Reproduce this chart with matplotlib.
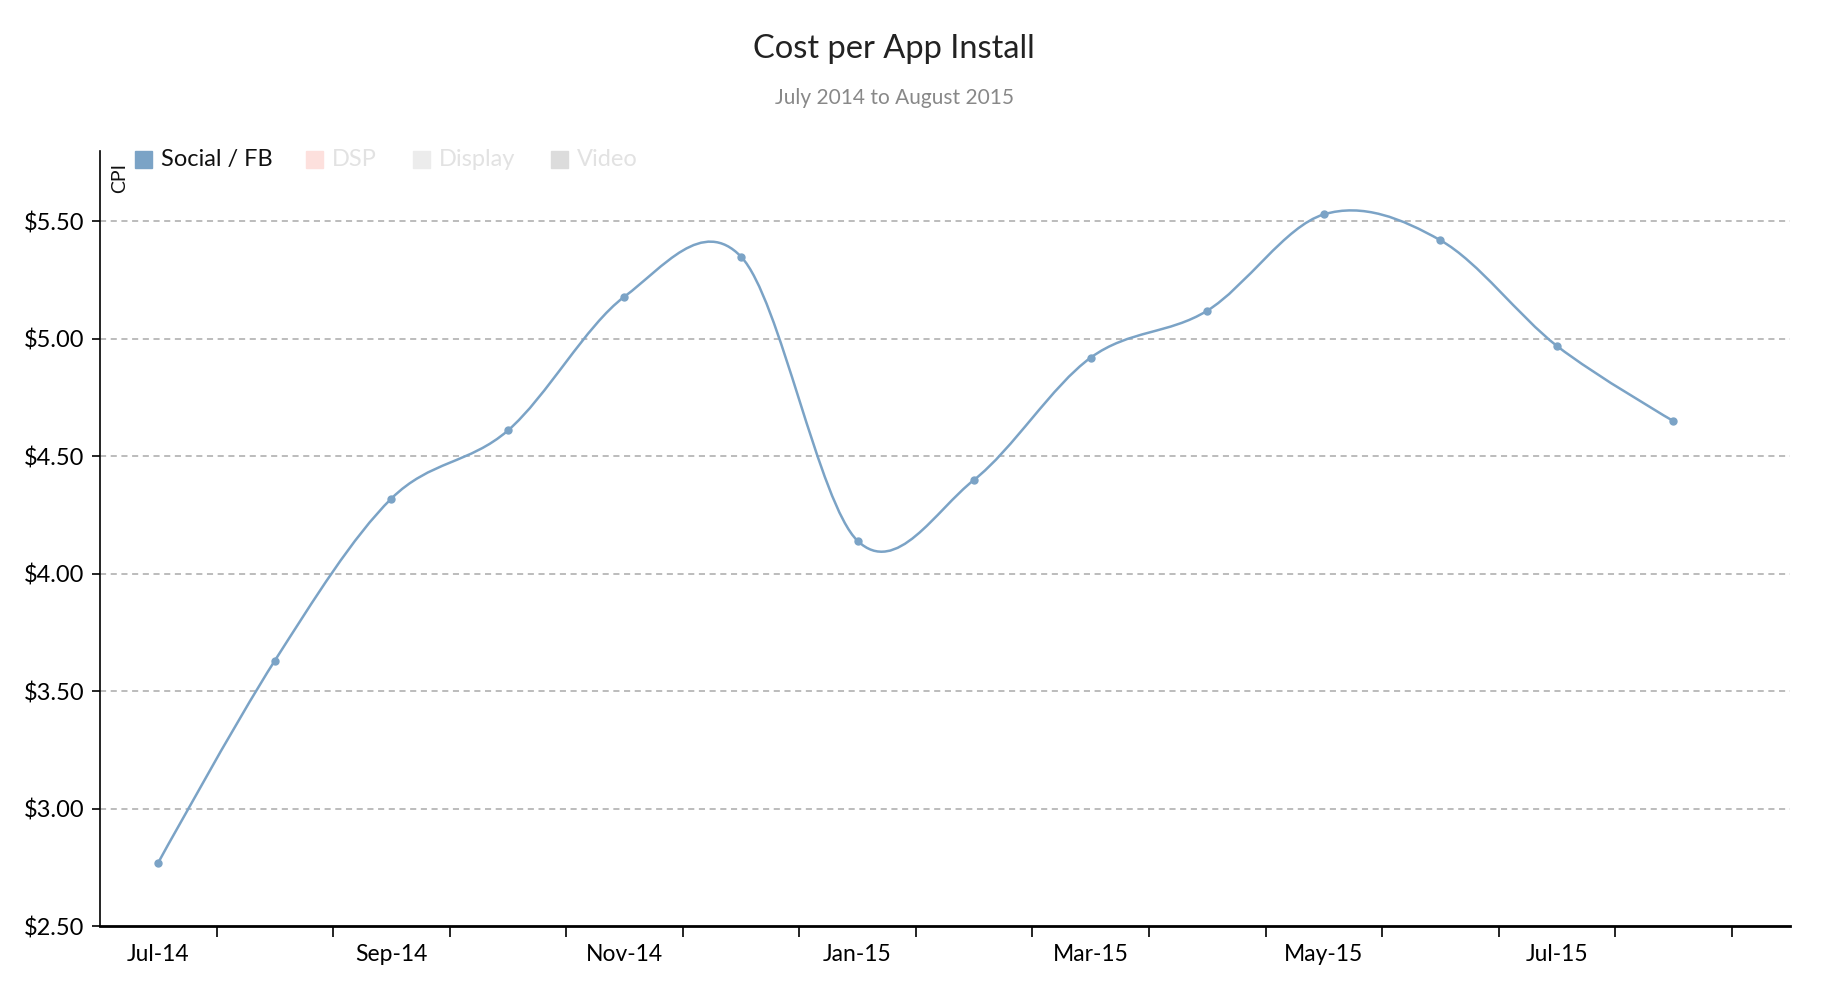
import matplotlib
matplotlib.use("Agg")
import matplotlib.pyplot as plt
from matplotlib.path import Path
from matplotlib.patches import PathPatch, Rectangle
from matplotlib.ticker import FixedLocator, NullFormatter

plt.rcParams["font.family"] = ["Lato", "DejaVu Sans"]

# Data
months = ["Jul-14", "Aug-14", "Sep-14", "Oct-14", "Nov-14", "Dec-14", "Jan-15",
          "Feb-15", "Mar-15", "Apr-15", "May-15", "Jun-15", "Jul-15", "Aug-15"]
cpi_social = [2.77, 3.63, 4.32, 4.61, 5.18, 5.35, 4.14,
              4.40, 4.92, 5.12, 5.53, 5.42, 4.97, 4.65]
y_ticks = [2.5, 3.0, 3.5, 4.0, 4.5, 5.0, 5.5]
legend_names = ["Social / FB", "DSP", "Display", "Video"]
legend_box_colors = ["#7ba3c6", "#fde0dd", "#ececec", "#dcdcdc"]
legend_text_colors = ["#111111", "#e2e2e2", "#e2e2e2", "#e2e2e2"]

W, H = 1826, 988
line_color = "#7ba3c6"

fig = plt.figure(figsize=(W / 100, H / 100), dpi=100)
ax = fig.add_axes([100 / W, 1 - 926 / H, (1790 - 100) / W, (926 - 151) / H])

# smooth cardinal curve (bezier segments, like d3.curveCardinal)
xs = list(range(len(cpi_social)))
n = len(xs)
verts = [(xs[0], cpi_social[0])]
codes = [Path.MOVETO]
k = 1 / 6
for i in range(n - 1):
    i0 = i - 1 if i > 0 else 1
    i3 = i + 2 if i + 2 < n else n - 2
    if i == 0:
        c1 = (xs[0], cpi_social[0])
    else:
        c1 = (xs[i] + k * (xs[i + 1] - xs[i0]),
              cpi_social[i] + k * (cpi_social[i + 1] - cpi_social[i0]))
    if i + 1 == n - 1:
        c2 = (xs[i + 1], cpi_social[i + 1])
    else:
        c2 = (xs[i + 1] - k * (xs[i3] - xs[i]),
              cpi_social[i + 1] - k * (cpi_social[i3] - cpi_social[i]))
    verts += [c1, c2, (xs[i + 1], cpi_social[i + 1])]
    codes += [Path.CURVE4, Path.CURVE4, Path.CURVE4]

ax.add_patch(PathPatch(Path(verts, codes), fill=False,
                       edgecolor=line_color, linewidth=1.8, zorder=3))
ax.plot(xs, cpi_social, linestyle="none", marker="o", markersize=5,
        color=line_color, zorder=4)

# axes
ax.set_xlim(-0.5, 14.0)
ax.set_ylim(2.5, 5.8)
ax.set_yticks(y_ticks)
ax.set_yticklabels([f"${v:.2f}" for v in y_ticks])
for v in y_ticks[1:]:
    ax.axhline(v, color="#aaaaaa", linewidth=1.1,
               linestyle=(0, (4, 3)), zorder=1)

ax.xaxis.set_major_locator(FixedLocator([i + 0.5 for i in range(n)]))
ax.xaxis.set_major_formatter(NullFormatter())
ax.xaxis.set_minor_locator(FixedLocator(xs[::2]))
ax.set_xticklabels(months[::2], minor=True)
ax.tick_params(axis="x", which="major", length=8, width=1.2, color="black")
ax.tick_params(axis="x", which="minor", length=0, pad=13, labelsize=16.5)
ax.tick_params(axis="y", length=6, width=1.2, pad=5, labelsize=17)

for side in ["top", "right"]:
    ax.spines[side].set_visible(False)
ax.spines["bottom"].set_linewidth(2)
ax.spines["left"].set_linewidth(1.2)

# titles
fig.text(894 / W, 1 - 58 / H, "Cost per App Install", ha="center",
         va="baseline", fontsize=23.5, color="#222222")
fig.text(894 / W, 1 - 104 / H, "July 2014 to August 2015", ha="center",
         va="baseline", fontsize=15, color="#888888")
fig.text(120 / W, 1 - 178 / H, "CPI", rotation=90, ha="center",
         va="center", fontsize=14, color="#111111")

# legend
box_x = [135, 306, 413, 551]
for name, bx, bc, tc in zip(legend_names, box_x, legend_box_colors,
                            legend_text_colors):
    fig.patches.append(Rectangle((bx / W, 1 - 168 / H), 17 / W, 17 / H,
                                 transform=fig.transFigure, color=bc))
    fig.text((bx + 26) / W, 1 - 159 / H, name, ha="left", va="center",
             fontsize=17, color=tc)

plt.savefig("out.png", dpi=100)
